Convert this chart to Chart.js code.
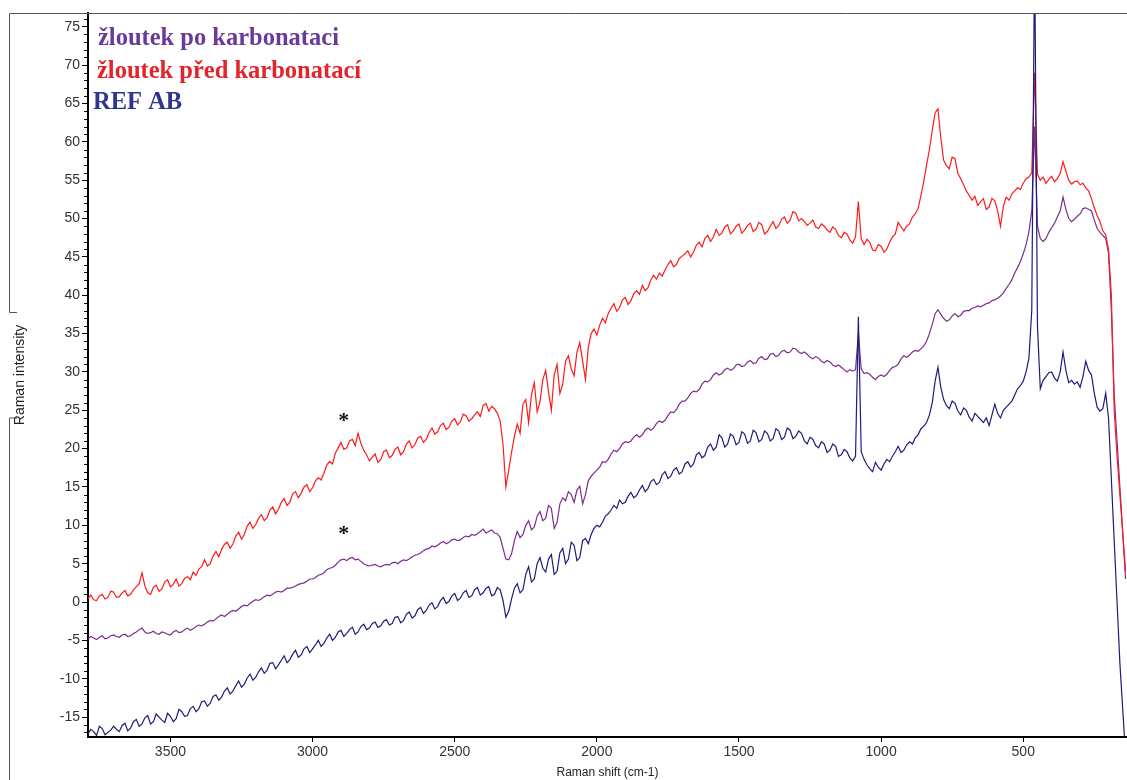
<!DOCTYPE html>
<html><head><meta charset="utf-8">
<script src="https://cdn.jsdelivr.net/npm/chart.js@4.4.1/dist/chart.umd.min.js"></script>
<style>html,body{margin:0;padding:0;background:#fff;}canvas{display:block;}</style>
</head><body>
<canvas id="c" width="1127" height="780"></canvas>
<script>
// Raman shift (cm-1), shared by all three spectra
const wavenumbers = [
3790,3780,3770,3760,3750,3740,3730,3720,3710,3700,3690,3680,3670,3660,3650,3640,3630,3620,3610,3600,
3590,3580,3570,3560,3550,3540,3530,3520,3510,3500,3490,3480,3470,3460,3450,3440,3430,3420,3410,3400,
3390,3380,3370,3360,3350,3340,3330,3320,3310,3300,3290,3280,3270,3260,3250,3240,3230,3220,3210,3200,
3190,3180,3170,3160,3150,3140,3130,3120,3110,3100,3090,3080,3070,3060,3050,3040,3030,3020,3010,3000,
2990,2980,2970,2960,2950,2940,2930,2920,2910,2900,2890,2880,2870,2860,2850,2840,2830,2820,2810,2800,
2790,2780,2770,2760,2750,2740,2730,2720,2710,2700,2690,2680,2670,2660,2650,2640,2630,2620,2610,2600,
2590,2580,2570,2560,2550,2540,2530,2520,2510,2500,2490,2480,2470,2460,2450,2440,2430,2420,2410,2400,
2390,2380,2370,2360,2350,2340,2330,2320,2310,2300,2290,2280,2270,2260,2250,2240,2230,2220,2210,2200,
2190,2180,2170,2160,2150,2140,2130,2120,2110,2100,2090,2080,2070,2060,2050,2040,2030,2020,2010,2000,
1990,1980,1970,1960,1950,1940,1930,1920,1910,1900,1890,1880,1870,1860,1850,1840,1830,1820,1810,1800,
1790,1780,1770,1760,1750,1740,1730,1720,1710,1700,1690,1680,1670,1660,1650,1640,1630,1620,1610,1600,
1590,1580,1570,1560,1550,1540,1530,1520,1510,1500,1490,1480,1470,1460,1450,1440,1430,1420,1410,1400,
1390,1380,1370,1360,1350,1340,1330,1320,1310,1300,1290,1280,1270,1260,1250,1240,1230,1220,1210,1200,
1190,1180,1170,1160,1150,1140,1130,1120,1110,1100,1090,1080,1070,1060,1050,1040,1030,1020,1010,1000,
990,980,970,960,950,940,930,920,910,900,890,880,870,860,850,840,830,820,810,800,
790,780,770,760,750,740,730,720,710,700,690,680,670,660,650,640,630,620,610,600,
590,580,570,560,550,540,530,520,510,500,490,480,470,460,450,440,430,420,410,400,
390,380,370,360,350,340,330,320,310,300,290,280,270,260,250,240,230,220,210,200,
190,180,170,160,150,140];

// žloutek po karbonataci (purple)
const poValues = [
-4.8,-4.5,-4.7,-4.9,-4.6,-4.4,-4.8,-4.7,-4.4,-4.3,-4.5,-4.6,-4.3,-4.2,-4.5,-4.4,-4.1,-3.9,-3.6,-3.4,
-3.9,-4.1,-4.0,-3.8,-4.1,-4.2,-3.9,-4.0,-4.2,-4.3,-3.9,-3.7,-4.0,-3.9,-3.6,-3.4,-3.7,-3.5,-3.2,-3.0,
-3.1,-2.9,-2.6,-2.4,-2.5,-2.2,-1.9,-1.7,-1.9,-1.6,-1.3,-1.1,-1.2,-0.9,-0.6,-0.4,-0.5,-0.2,0.1,0.3,
0.2,0.4,0.7,0.9,0.8,1.0,1.3,1.4,1.3,1.5,1.8,1.8,1.9,2.1,2.3,2.4,2.5,2.7,3.0,3.0,
3.2,3.5,3.6,3.8,4.2,4.4,4.5,4.8,5.2,5.5,5.6,5.4,5.7,5.8,5.5,5.6,5.3,5.0,4.8,4.7,
4.8,4.9,4.7,4.6,4.8,4.9,4.8,5.1,5.2,5.0,5.3,5.5,5.4,5.6,5.9,6.1,6.2,6.4,6.7,6.9,
7.0,7.3,7.2,7.4,7.7,7.9,7.6,7.8,8.1,8.2,8.0,8.1,8.4,8.6,8.5,8.8,8.7,8.9,9.2,9.5,
9.0,9.2,9.4,9.0,8.9,8.4,7.0,5.6,5.5,6.3,8.0,9.2,8.4,8.8,10.0,10.6,9.4,9.8,11.2,11.8,
10.6,10.9,12.6,12.2,9.6,10.4,12.8,13.6,13.2,14.4,14.0,13.0,14.6,15.1,12.8,14.0,15.8,16.4,16.8,17.2,
17.6,18.3,18.2,18.6,19.3,19.8,19.6,20.0,20.6,20.9,20.8,21.0,21.5,21.8,21.5,21.8,22.4,22.7,22.4,22.7,
23.3,23.6,23.4,23.7,24.3,24.8,24.7,25.1,25.8,26.2,26.2,26.6,27.2,27.5,27.4,27.7,28.4,28.8,28.7,29.0,
29.6,29.9,29.6,29.8,30.3,30.5,30.2,30.4,30.9,31.0,30.7,30.8,31.3,31.5,31.1,31.2,31.8,32.0,31.6,31.7,
32.3,32.4,32.0,32.2,32.7,32.8,32.5,32.6,33.1,33.0,32.6,32.4,32.6,32.3,31.9,31.7,32.0,31.8,31.4,31.2,
31.5,31.3,30.9,30.7,30.9,30.6,30.3,30.0,30.3,30.1,30.3,35.0,30.4,29.8,29.9,29.7,29.3,29.0,29.4,29.6,
29.4,29.7,30.2,30.6,30.7,31.0,31.7,32.1,31.9,32.2,32.6,32.8,32.7,33.0,33.4,34.0,35.0,36.2,37.6,38.1,
37.5,37.0,36.6,36.8,37.3,37.6,37.2,37.4,37.9,38.0,38.0,38.3,38.4,38.6,38.5,38.7,38.9,39.0,39.3,39.4,
39.6,39.9,40.3,40.9,41.4,42.0,42.9,43.6,44.4,45.4,46.6,48.3,51.0,62.0,49.0,47.4,47.0,47.4,48.2,48.8,
49.4,50.2,51.0,52.8,51.2,50.0,49.6,49.9,50.3,50.6,51.3,51.4,51.2,51.0,49.8,48.7,48.2,47.8,47.4,45.5,
38.0,27.0,21.0,15.0,9.0,3.0];

// žloutek před karbonatací (red)
const predValues = [
0.4,0.9,0.3,0.2,0.8,1.0,0.4,0.6,1.4,1.3,0.6,0.7,1.2,1.5,0.8,1.0,1.6,2.0,2.4,3.8,
2.1,1.2,1.0,1.9,2.2,1.4,1.7,2.6,2.9,2.0,2.3,3.0,2.1,2.4,3.1,3.3,2.9,3.9,3.5,4.3,
4.6,5.5,4.7,5.0,6.0,6.6,5.9,6.9,7.5,7.8,7.0,7.6,8.6,9.1,8.2,8.8,9.9,10.4,9.6,10.1,
10.9,11.4,10.6,11.0,12.0,12.4,11.5,12.1,13.0,13.5,12.6,13.0,14.1,14.4,13.6,14.2,15.0,15.3,14.4,14.9,
15.8,16.2,15.9,16.8,17.9,18.3,18.0,19.4,20.1,20.8,19.9,20.1,21.0,21.2,20.4,22.0,20.7,19.8,19.2,18.4,
18.9,19.3,18.2,18.6,19.6,19.8,18.8,19.1,19.9,20.2,19.2,19.6,20.6,21.0,20.1,20.5,21.4,21.6,20.8,21.2,
22.1,22.7,21.9,22.2,23.0,23.3,22.5,22.8,23.6,23.9,23.1,23.5,24.5,24.3,23.6,23.9,24.4,24.8,24.2,25.6,
25.9,24.9,25.5,25.2,24.6,23.6,20.5,15.0,17.2,19.5,21.6,23.2,22.0,25.8,26.4,23.4,27.0,28.6,24.8,26.1,
29.0,30.2,27.4,25.0,29.6,31.0,27.2,28.4,31.4,32.1,30.4,29.5,32.6,33.8,31.4,29.0,33.2,35.0,35.6,34.8,
36.1,37.0,36.4,37.6,38.3,38.9,37.9,38.4,39.4,39.7,38.8,39.3,40.2,40.6,40.1,41.3,40.6,41.0,42.0,42.6,
42.1,42.9,42.5,43.3,44.0,44.5,43.7,44.0,44.8,45.1,45.4,45.8,45.0,45.6,46.5,46.9,46.3,47.4,47.8,47.0,
47.6,48.6,47.8,48.1,48.9,49.2,48.0,48.4,49.0,49.3,48.1,48.5,49.1,49.4,48.3,48.6,49.5,49.2,48.0,48.3,
49.0,49.6,48.7,49.1,49.9,50.2,49.4,49.8,50.9,50.7,49.7,50.0,49.6,49.1,49.4,49.8,48.9,48.7,49.3,49.0,
48.5,48.2,48.9,48.6,47.8,47.5,48.2,48.0,47.2,46.8,47.6,52.2,47.4,46.6,47.3,46.9,45.9,45.8,46.6,46.4,
45.6,46.0,46.9,47.6,48.0,49.5,48.9,48.4,49.0,49.3,50.2,50.6,51.3,53.0,54.8,57.0,59.0,61.5,63.8,64.3,
60.5,57.6,56.9,56.5,58.0,57.8,55.9,55.2,54.4,53.6,53.0,52.4,52.9,51.7,52.2,52.6,51.2,51.5,52.6,52.3,
51.0,49.0,51.6,52.8,52.4,53.2,53.6,54.0,53.8,54.6,55.2,55.4,56.0,69.0,55.8,55.0,55.4,54.6,55.1,55.5,
54.8,55.2,55.9,57.4,56.2,55.0,54.5,54.8,54.9,54.4,54.6,54.0,53.6,52.6,51.4,50.4,49.6,48.4,47.9,46.0,
40.0,25.0,19.0,14.0,9.0,4.0];

// REF AB (navy)
const refValues = [
-17.2,-16.6,-16.9,-17.4,-16.2,-16.5,-17.3,-17.0,-16.7,-16.2,-16.6,-16.9,-16.1,-15.8,-16.8,-16.4,-15.6,-15.3,-16.2,-15.9,
-15.1,-14.8,-15.9,-15.6,-14.6,-15.0,-15.4,-15.7,-14.5,-14.9,-15.6,-15.2,-14.0,-14.3,-14.9,-14.8,-13.9,-13.6,-14.3,-13.9,
-13.0,-12.9,-13.6,-13.2,-12.3,-12.1,-12.8,-12.4,-11.6,-11.2,-12.0,-11.6,-10.9,-10.3,-11.1,-10.7,-9.9,-9.4,-10.2,-9.8,
-9.1,-8.6,-9.3,-8.9,-8.0,-7.9,-8.7,-8.2,-7.6,-7.0,-7.9,-7.5,-6.8,-6.3,-7.2,-6.9,-6.1,-5.8,-6.6,-6.1,
-5.6,-5.0,-5.8,-5.4,-4.7,-4.2,-5.0,-4.6,-3.9,-3.7,-4.5,-4.1,-3.6,-3.3,-4.2,-3.9,-3.2,-2.9,-3.6,-3.4,
-2.8,-2.6,-3.3,-3.1,-2.5,-2.3,-3.0,-2.8,-2.0,-1.9,-2.7,-2.4,-1.6,-1.3,-2.1,-1.8,-1.0,-0.7,-1.5,-1.1,
-0.4,-0.1,-0.9,-0.6,0.2,0.6,-0.2,0.1,0.8,1.1,0.2,0.5,1.2,1.5,0.6,0.8,1.6,1.9,0.9,1.2,
1.8,2.0,0.8,1.0,1.9,1.6,0.2,-2.0,-1.2,0.4,1.8,2.4,1.2,1.6,3.6,4.6,2.6,3.0,5.0,5.8,
4.4,3.9,5.6,6.2,3.6,4.0,6.4,7.0,5.0,5.6,7.8,7.4,5.4,5.8,8.0,8.3,7.6,8.8,9.6,10.0,
9.8,10.4,11.2,11.5,12.0,12.6,12.2,13.3,12.8,13.0,13.8,14.3,13.6,13.9,14.6,15.2,14.4,14.8,15.7,16.0,
15.3,15.6,16.6,17.0,16.1,16.4,17.2,17.5,16.7,17.0,18.0,18.3,17.6,18.0,19.2,19.5,18.8,19.1,20.2,20.6,
19.8,20.2,21.8,21.4,20.2,20.6,21.9,21.6,20.5,20.8,22.2,21.9,20.7,21.0,22.4,22.1,20.9,21.2,22.3,22.0,
21.0,21.3,22.6,22.3,21.2,21.5,22.7,22.4,21.3,21.6,22.3,22.0,21.0,20.6,21.5,21.2,20.4,20.1,20.9,20.6,
19.5,19.8,20.6,20.3,19.0,19.2,19.9,19.6,18.8,18.4,19.0,37.2,19.6,18.6,17.9,17.4,17.0,18.2,17.6,17.2,
18.0,18.6,18.3,19.0,19.6,20.3,19.5,19.8,20.5,20.9,20.6,21.4,21.8,22.6,22.9,23.4,24.4,26.0,28.8,30.6,
28.0,26.4,25.6,25.2,26.2,25.9,24.9,24.4,25.3,25.0,24.1,23.6,24.6,24.2,23.8,23.4,24.0,23.0,24.4,25.8,
24.6,24.0,25.0,25.4,25.8,26.2,27.0,27.8,28.2,28.8,30.0,31.8,38.0,85.0,36.0,27.8,28.9,29.4,29.9,30.0,
29.2,28.8,30.0,32.6,30.2,28.6,28.9,28.4,28.7,28.0,29.4,31.4,30.2,29.6,27.2,25.4,24.9,25.2,27.2,24.0,
16.0,8.0,0.0,-8.0,-14.0,-20.0];

const seriesLabels = ['žloutek po karbonataci', 'žloutek před karbonatací', 'REF AB'];
const xTickValues = [500, 1000, 1500, 2000, 2500, 3000, 3500];
const yTickValues = [-15, -10, -5, 0, 5, 10, 15, 20, 25, 30, 35, 40, 45, 50, 55, 60, 65, 70, 75];
const starMarks = [{x: 2890, y: 24.1}, {x: 2890, y: 9.4}];

const lineColors = ['#7a2e8c', '#ff1a1a', '#1c1c7c'];
const legendColors = ['#6a3a9a', '#e2242b', '#2e3490'];

const toPts = arr => wavenumbers.map((w, i) => ({x: w, y: arr[i]}));

const decor = {
  id: 'decor',
  beforeDraw(chart) {
    const c = chart.ctx;
    c.save(); c.fillStyle = '#fff'; c.fillRect(0, 0, chart.width, chart.height); c.restore();
  },
  afterDraw(chart) {
    const c = chart.ctx, a = chart.chartArea, x = chart.scales.x, y = chart.scales.y;
    c.save();
    // minor y ticks
    c.strokeStyle = '#000'; c.lineWidth = 1;
    for (let v = Math.ceil(y.min); v <= y.max; v++) {
      if (v % 5 === 0) continue;
      const py = Math.round(y.getPixelForValue(v)) + 0.5;
      c.beginPath(); c.moveTo(a.left - 4, py); c.lineTo(a.left, py); c.stroke();
    }
    // outer frame
    c.strokeStyle = '#555'; c.lineWidth = 1;
    c.beginPath();
    c.moveTo(9.5, 780); c.lineTo(9.5, 418); c.lineTo(17, 418);
    c.moveTo(17, 312.5); c.lineTo(9.5, 312.5); c.lineTo(9.5, 13.5); c.lineTo(1127, 13.5);
    c.stroke();
    // legend text
    c.font = 'bold 24.5px "Liberation Serif", "Times New Roman", serif';
    c.textBaseline = 'middle'; c.textAlign = 'left';
    const ly = [39, 72, 103], lx = [98, 97, 93];
    seriesLabels.forEach((t, i) => { c.fillStyle = legendColors[i]; c.fillText(t, lx[i], ly[i]); });
    // asterisks
    c.fillStyle = '#111'; c.textAlign = 'center'; c.textBaseline = 'alphabetic';
    c.font = 'bold 22px "Liberation Serif", serif';
    starMarks.forEach(s => c.fillText('*', x.getPixelForValue(s.x), y.getPixelForValue(s.y) + 10));
    c.restore();
  }
};

const tickFont = {family: '"Liberation Sans", Arial, sans-serif', size: 14};

new Chart(document.getElementById('c'), {
  type: 'line',
  data: {
    datasets: [
      {label: seriesLabels[2], data: toPts(refValues), borderColor: lineColors[2]},
      {label: seriesLabels[1], data: toPts(predValues), borderColor: lineColors[1]},
      {label: seriesLabels[0], data: toPts(poValues), borderColor: lineColors[0]}
    ]
  },
  options: {
    responsive: false,
    animation: false,
    layout: {padding: {top: 13, left: 0, right: 0, bottom: 0}},
    elements: {point: {radius: 0}, line: {borderWidth: 1.2, tension: 0}},
    plugins: {legend: {display: false}, tooltip: {enabled: false}},
    scales: {
      x: {
        type: 'linear', reverse: true, min: 135, max: 3790,
        afterBuildTicks: s => { s.ticks = xTickValues.map(v => ({value: v})); },
        afterFit: s => { s.height = 43; },
        grid: {drawOnChartArea: false, drawTicks: true, tickLength: 5, tickColor: '#000'},
        border: {display: true, color: '#000', width: 2},
        ticks: {color: '#333', padding: 2, maxRotation: 0, font: tickFont, callback: v => String(v)},
        title: {display: true, text: 'Raman shift (cm-1)', color: '#222', padding: {top: 0, bottom: 0},
                font: {family: '"Liberation Sans", Arial, sans-serif', size: 12}}
      },
      y: {
        type: 'linear', min: -17.6, max: 76.8,
        afterBuildTicks: s => { s.ticks = yTickValues.map(v => ({value: v})); },
        afterFit: s => { s.width = 88; },
        grid: {drawOnChartArea: false, drawTicks: true, tickLength: 6, tickColor: '#000'},
        border: {display: true, color: '#000', width: 2},
        ticks: {color: '#333', padding: 2, font: tickFont, callback: v => String(v)},
        title: {display: true, text: 'Raman intensity', color: '#222', padding: {top: 12, bottom: 0},
                font: {family: '"Liberation Sans", Arial, sans-serif', size: 14}}
      }
    }
  },
  plugins: [decor]
});
</script>
</body></html>
